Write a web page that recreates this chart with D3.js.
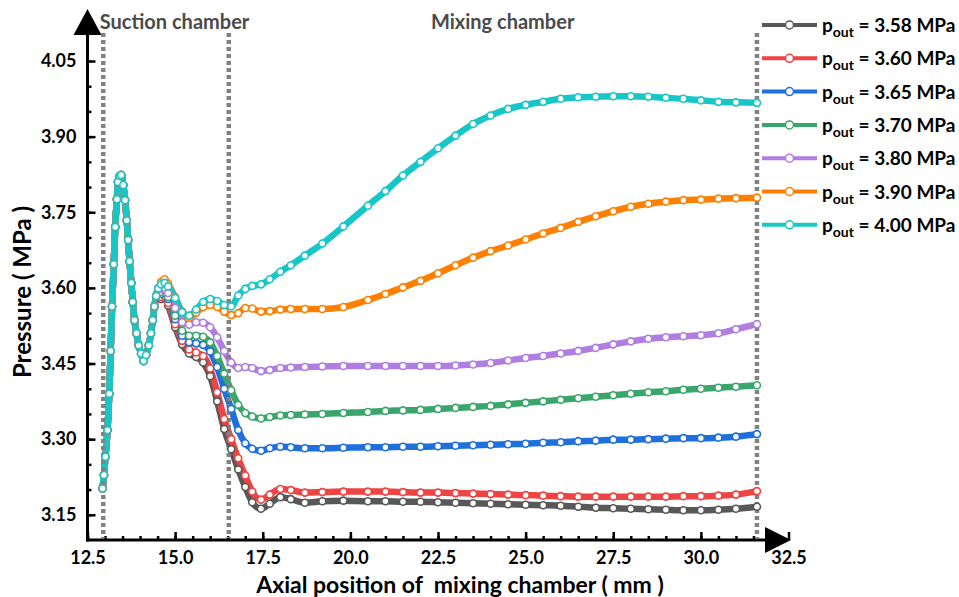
<!DOCTYPE html>
<html>
<head>
<meta charset="utf-8">
<title>Pressure along mixing chamber</title>
<script src="https://cdn.jsdelivr.net/npm/d3@7"></script>
<style>
body{ margin: 0; background: #ffffff; }
text{ font-family: Lato, "Open Sans", sans-serif; font-weight: bold; }
</style>
</head>
<body>
<div id="chart"></div>
<script>
// suction part, same for every outlet pressure
var suctionX = [12.93, 12.97, 13.01, 13.07, 13.12, 13.16, 13.20, 13.25, 13.29, 13.34, 13.37, 13.42, 13.46, 13.52,
	13.57, 13.62, 13.66, 13.70, 13.75, 13.79, 13.84, 13.90, 13.96, 14.03, 14.10, 14.17, 14.25, 14.31, 14.36,
	14.41, 14.46, 14.52];
var suctionP = [3.202, 3.229, 3.265, 3.318, 3.390, 3.475, 3.563, 3.647, 3.721, 3.776, 3.810, 3.822, 3.824, 3.804,
	3.774, 3.734, 3.695, 3.653, 3.610, 3.572, 3.536, 3.510, 3.486, 3.470, 3.455, 3.467, 3.486, 3.510, 3.536,
	3.563, 3.584, 3.599];

// mixing part
var mixX = [14.6, 14.7, 14.8, 15.0, 15.2, 15.4, 15.6, 15.8, 16.0, 16.2, 16.4, 16.6, 16.8, 17.0, 17.2, 17.45, 17.7,
	18.0, 18.3, 18.7, 19.2, 19.8, 20.5, 21.0, 21.5, 22.0, 22.5, 23.0, 23.5, 24.0, 24.5, 25.0, 25.5, 26.0, 26.5,
	27.0, 27.5, 28.0, 28.5, 29.0, 29.5, 30.0, 30.5, 31.0, 31.6];

var p358 = [3.578, 3.580, 3.565, 3.522, 3.488, 3.470, 3.463, 3.452, 3.425, 3.375, 3.320, 3.280, 3.240, 3.205, 3.175,
	3.162, 3.172, 3.185, 3.181, 3.174, 3.177, 3.178, 3.177, 3.177, 3.176, 3.176, 3.175, 3.174, 3.173, 3.172, 3.171,
	3.170, 3.169, 3.168, 3.166, 3.164, 3.163, 3.162, 3.161, 3.160, 3.159, 3.159, 3.160, 3.162, 3.166];
var p360 = [3.582, 3.584, 3.570, 3.528, 3.495, 3.478, 3.472, 3.465, 3.440, 3.393, 3.340, 3.300, 3.262, 3.228, 3.196,
	3.180, 3.190, 3.201, 3.199, 3.194, 3.195, 3.196, 3.196, 3.196, 3.195, 3.194, 3.194, 3.193, 3.192, 3.191, 3.190,
	3.189, 3.188, 3.187, 3.186, 3.186, 3.186, 3.186, 3.186, 3.186, 3.187, 3.187, 3.188, 3.190, 3.197];
var p365 = [3.588, 3.590, 3.578, 3.538, 3.505, 3.492, 3.490, 3.487, 3.474, 3.443, 3.400, 3.360, 3.318, 3.292, 3.281,
	3.277, 3.282, 3.285, 3.284, 3.282, 3.282, 3.283, 3.284, 3.284, 3.285, 3.285, 3.286, 3.287, 3.288, 3.289, 3.290,
	3.291, 3.293, 3.294, 3.296, 3.297, 3.299, 3.299, 3.300, 3.301, 3.302, 3.302, 3.303, 3.305, 3.310];
var p370 = [3.592, 3.595, 3.582, 3.545, 3.515, 3.505, 3.505, 3.503, 3.492, 3.465, 3.430, 3.397, 3.368, 3.352, 3.345,
	3.341, 3.344, 3.347, 3.348, 3.349, 3.350, 3.352, 3.354, 3.356, 3.357, 3.358, 3.360, 3.362, 3.364, 3.366, 3.369,
	3.372, 3.375, 3.378, 3.381, 3.384, 3.387, 3.390, 3.393, 3.395, 3.398, 3.400, 3.402, 3.404, 3.407];
var p380 = [3.598, 3.600, 3.590, 3.560, 3.532, 3.527, 3.532, 3.531, 3.522, 3.502, 3.475, 3.452, 3.441, 3.443, 3.441,
	3.435, 3.437, 3.441, 3.442, 3.443, 3.444, 3.445, 3.445, 3.445, 3.445, 3.445, 3.445, 3.446, 3.448, 3.451, 3.456,
	3.461, 3.465, 3.470, 3.475, 3.481, 3.488, 3.494, 3.499, 3.502, 3.504, 3.506, 3.510, 3.518, 3.528];
var p390 = [3.612, 3.617, 3.608, 3.582, 3.553, 3.541, 3.551, 3.562, 3.566, 3.562, 3.553, 3.546, 3.550, 3.560, 3.559,
	3.553, 3.554, 3.557, 3.558, 3.558, 3.558, 3.562, 3.576, 3.588, 3.601, 3.614, 3.629, 3.645, 3.660, 3.673, 3.684,
	3.696, 3.708, 3.719, 3.731, 3.742, 3.752, 3.761, 3.767, 3.771, 3.774, 3.775, 3.777, 3.778, 3.779];
var p400 = [3.607, 3.610, 3.603, 3.580, 3.552, 3.545, 3.557, 3.572, 3.578, 3.574, 3.566, 3.563, 3.585, 3.598, 3.604,
	3.607, 3.617, 3.632, 3.645, 3.664, 3.688, 3.722, 3.763, 3.792, 3.823, 3.850, 3.877, 3.902, 3.925, 3.942, 3.955,
	3.963, 3.969, 3.975, 3.978, 3.979, 3.980, 3.980, 3.979, 3.977, 3.975, 3.972, 3.969, 3.968, 3.967];

var seriesLabels = ["3.58", "3.60", "3.65", "3.70", "3.80", "3.90", "4.00"];
var seriesValues = [p358, p360, p365, p370, p380, p390, p400];
var seriesColors = ["#585858", "#ee4444", "#1f6fdc", "#3ba66b", "#b07de0", "#ff8000", "#17c7c7"];

var yTicks = [3.15, 3.30, 3.45, 3.60, 3.75, 3.90, 4.05];
var xTicks = [12.5, 15.0, 17.5, 20.0, 22.5, 25.0, 27.5, 30.0, 32.5];
var chamberBounds = [12.95, 16.53, 31.6];
var chamberNames = [{name: "Suction chamber", x: 12.85}, {name: "Mixing chamber", x: 22.3}];

var width = 959, height = 597;

var svg = d3.select("#chart").append("svg")
	.attr("width", width)
	.attr("height", height);

var x = d3.scaleLinear().domain([12.5, 32.5]).range([87.5, 788.5]);
var y = d3.scaleLinear().domain([3.10, 4.05]).range([540, 61]);

// minor ticks
var yMinor = d3.range(3.15, 4.06, 0.05);
var xMinor = d3.range(12.5, 32.01, 0.5);

svg.append("g")
	.attr("transform", "translate(" + x(12.5) + ",0)")
	.call(d3.axisLeft(y).tickValues(yMinor).tickSize(-4).tickFormat(""))
	.call(function(g){ g.select(".domain").remove(); })
	.selectAll("line").attr("stroke", "#000").attr("stroke-width", 2.5);

svg.append("g")
	.attr("transform", "translate(0," + y(3.10) + ")")
	.call(d3.axisBottom(x).tickValues(xMinor).tickSize(-4).tickFormat(""))
	.call(function(g){ g.select(".domain").remove(); })
	.selectAll("line").attr("stroke", "#000").attr("stroke-width", 2.5);

// major ticks + labels
var yAxis = svg.append("g")
	.attr("transform", "translate(" + x(12.5) + ",0)")
	.call(d3.axisLeft(y).tickValues(yTicks).tickSize(-8).tickPadding(11).tickFormat(d3.format(".2f")));
yAxis.select(".domain").remove();
yAxis.selectAll("line").attr("stroke", "#000").attr("stroke-width", 2.5);
yAxis.selectAll("text").attr("font-size", 18).attr("fill", "#000")
	.style("font-family", "Lato, sans-serif").style("font-weight", "bold");

var xAxis = svg.append("g")
	.attr("transform", "translate(0," + y(3.10) + ")")
	.call(d3.axisBottom(x).tickValues(xTicks).tickSize(-8).tickPadding(11).tickFormat(d3.format(".1f")));
xAxis.select(".domain").remove();
xAxis.selectAll("line").attr("stroke", "#000").attr("stroke-width", 2.5);
xAxis.selectAll("text").attr("font-size", 18).attr("fill", "#000")
	.style("font-family", "Lato, sans-serif").style("font-weight", "bold");

// axis lines with arrow heads
svg.append("line")
	.attr("x1", x(12.5)).attr("x2", x(12.5))
	.attr("y1", y(3.10) + 1.5).attr("y2", 34)
	.attr("stroke", "#000").attr("stroke-width", 3);
svg.append("line")
	.attr("x1", x(12.5) - 1.5).attr("x2", 766)
	.attr("y1", y(3.10)).attr("y2", y(3.10))
	.attr("stroke", "#000").attr("stroke-width", 3);
svg.append("path")
	.attr("d", "M" + (x(12.5) - 14) + ",35 L" + x(12.5) + ",9 L" + (x(12.5) + 14) + ",35 Z")
	.attr("fill", "#000");
svg.append("path")
	.attr("d", "M765," + (y(3.10) - 13) + " L791," + y(3.10) + " L765," + (y(3.10) + 13) + " Z")
	.attr("fill", "#000");

// chamber labels
svg.selectAll(".chamber")
	.data(chamberNames)
	.enter().append("text")
	.attr("class", "chamber")
	.attr("x", function(d){ return x(d.x); })
	.attr("y", 29)
	.attr("font-size", 20)
	.attr("fill", "#4a4a4a")
	.text(function(d){ return d.name; });

// curves
var line = d3.line()
	.x(function(d){ return x(d[0]); })
	.y(function(d){ return y(d[1]); })
	.curve(d3.curveMonotoneX);

var series = seriesValues.map(function(vals, i){
	var pts = suctionX.map(function(v, j){ return [v, suctionP[j]]; });
	mixX.forEach(function(v, j){ pts.push([v, vals[j]]); });
	return {label: seriesLabels[i], color: seriesColors[i], points: pts};
});

series.forEach(function(s){
	svg.append("path")
		.datum(s.points)
		.attr("d", line)
		.attr("fill", "none")
		.attr("stroke", s.color)
		.attr("stroke-width", 6.5)
		.attr("stroke-linejoin", "round");
});

// chamber boundaries
svg.selectAll(".bound")
	.data(chamberBounds)
	.enter().append("line")
	.attr("class", "bound")
	.attr("x1", function(d){ return x(d); })
	.attr("x2", function(d){ return x(d); })
	.attr("y1", 33)
	.attr("y2", y(3.10) - 2)
	.attr("stroke", "#828282")
	.attr("stroke-width", 4.5)
	.attr("stroke-dasharray", "4,3");

series.forEach(function(s){
	svg.append("g").selectAll("circle")
		.data(s.points)
		.enter().append("circle")
		.attr("cx", function(d){ return x(d[0]); })
		.attr("cy", function(d){ return y(d[1]); })
		.attr("r", 3.5)
		.attr("fill", "#fff")
		.attr("stroke", s.color)
		.attr("stroke-width", 1.6);
});

// legend
var legend = svg.append("g").selectAll("g")
	.data(series)
	.enter().append("g")
	.attr("transform", function(d, i){ return "translate(762," + (25 + i * 33.3) + ")"; });

legend.append("line")
	.attr("x1", 0).attr("x2", 55)
	.attr("stroke", function(d){ return d.color; })
	.attr("stroke-width", 4);
legend.append("circle")
	.attr("cx", 27.5)
	.attr("r", 4)
	.attr("fill", "#fff")
	.attr("stroke", function(d){ return d.color; })
	.attr("stroke-width", 1.5);

var lt = legend.append("text")
	.attr("x", 60)
	.attr("y", 7)
	.attr("font-size", 19)
	.attr("fill", "#000");
lt.append("tspan").text("p");
lt.append("tspan").attr("font-size", 14).attr("dy", 5).text("out");
lt.append("tspan").attr("dy", -5).text(function(d){ return " = " + d.label + " MPa"; });

// axis titles
svg.append("text")
	.attr("x", 460)
	.attr("y", 593)
	.attr("text-anchor", "middle")
	.attr("font-size", 23)
	.attr("fill", "#000")
	.style("white-space", "pre")
	.text("Axial position of  mixing chamber ( mm )");

svg.append("text")
	.attr("transform", "translate(31,292) rotate(-90)")
	.attr("text-anchor", "middle")
	.attr("font-size", 24)
	.attr("fill", "#000")
	.text("Pressure ( MPa )");
</script>
</body>
</html>
